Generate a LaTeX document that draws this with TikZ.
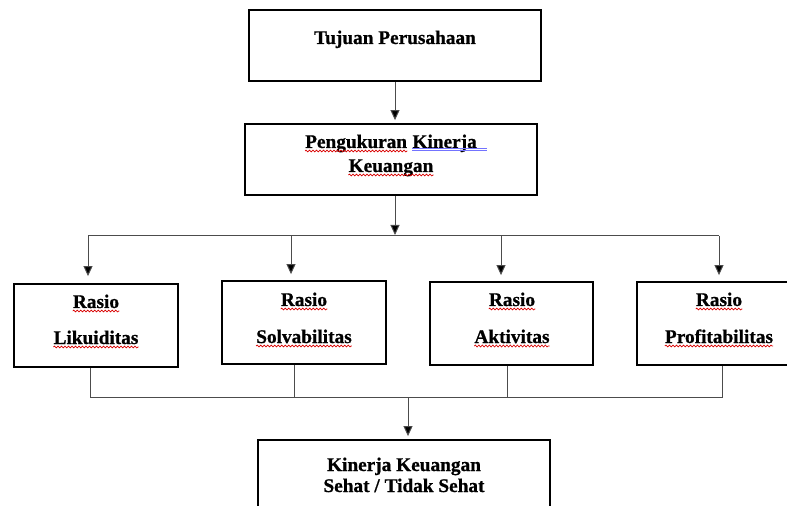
\documentclass[tikz,border=0pt]{standalone}
\usepackage{fontspec}
\setmainfont[BoldFeatures={FakeBold=0.8}]{Liberation Serif}
\usetikzlibrary{arrows.meta,decorations.pathmorphing}
\begin{document}
\begin{tikzpicture}[x=1bp,y=-1bp,
  box/.style={draw=black, line width=1.8bp, inner sep=0pt, fill=white},
  wrd/.style={anchor=base, inner sep=0pt, font=\bfseries\fontsize{19.3bp}{23bp}\selectfont},
  conn/.style={draw=black!70, line width=1bp},
  arr/.style={conn, -{Triangle[width=9bp,length=10bp,fill=black]}},
  squig/.style={draw=red!85!black, line width=0.7bp, decorate, decoration={snake, amplitude=0.9bp, segment length=3.5bp}},
  blueline/.style={draw=blue!55!white, line width=0.7bp}]
\useasboundingbox (0,0) rectangle (787,506);
% boxes
\node[box, minimum width=292bp, minimum height=71bp] (tujuan) at (395,45.5) {};
\node[box, minimum width=292bp, minimum height=71bp] (ukur) at (391,159.5) {};
\node[box, minimum width=164bp, minimum height=83bp] (likuid) at (96,325.5) {};
\node[box, minimum width=164bp, minimum height=83bp] (solva) at (304,322.5) {};
\node[box, minimum width=163bp, minimum height=83bp] (aktiv) at (511.5,323.5) {};
\node[box, minimum width=163bp, minimum height=83bp] (profit) at (718.5,323.5) {};
\node[box, minimum width=292bp, minimum height=80bp] (hasil) at (404,480) {};
% texts
\node[wrd] (t1) at (395,44) {Tujuan Perusahaan};
\node[wrd, anchor=base west] (u1) at (305,148) {Pengukuran};
\node[wrd, anchor=base west] (u2) at ([xshift=5bp]u1.base east) {Kinerja};
\node[wrd] (u3) at (391,172) {Keuangan};
\node[wrd] (a1) at (96,308) {Rasio};
\node[wrd] (a2) at (96,344) {Likuiditas};
\node[wrd] (b1) at (304,306) {Rasio};
\node[wrd] (b2) at (304,343) {Solvabilitas};
\node[wrd] (c1) at (512,306) {Rasio};
\node[wrd] (c2) at (512,343) {Aktivitas};
\node[wrd] (d1) at (719,306) {Rasio};
\node[wrd] (d2) at (719,343) {Profitabilitas};
\node[wrd] (h1) at (404,471) {Kinerja Keuangan};
\node[wrd] (h2) at (404,492) {Sehat / Tidak Sehat};
% spell-check marks
\foreach \w in {u1,u3,a1,a2,b1,b2,c1,c2,d1,d2}
  \draw[squig] ([yshift=-3bp]\w.base west) -- ([yshift=-3bp]\w.base east);
\draw[blueline] ([yshift=-0.3bp]u2.base west) -- ([xshift=10bp,yshift=-0.3bp]u2.base east);
\draw[blueline] ([yshift=-2.3bp]u2.base west) -- ([xshift=10bp,yshift=-2.3bp]u2.base east);
% connectors
\coordinate (split) at (395,236);
\coordinate (bA) at (88,236);
\coordinate (bB) at (291,236);
\coordinate (bC) at (501,236);
\coordinate (bD) at (719,236);
\coordinate (jA) at (90,397);
\coordinate (jB) at (294,397);
\coordinate (jC) at (507,397);
\coordinate (jD) at (722,397);
\coordinate (merge) at (408,397);
\draw[arr, shorten >=3bp] (tujuan.south) -- (tujuan.south |- ukur.north);
\draw[conn] (bA) -- (bD);
\draw[arr, shorten >=1bp] (ukur.south -| split) -- (split);
\draw[arr, shorten >=7bp] (bA) -- (bA |- likuid.north);
\draw[arr, shorten >=6bp] (bB) -- (bB |- solva.north);
\draw[arr, shorten >=6bp] (bC) -- (bC |- aktiv.north);
\draw[arr, shorten >=6bp] (bD) -- (bD |- profit.north);
\draw[conn] (likuid.south -| jA) -- (jA) -- (jD) -- (profit.south -| jD);
\draw[conn] (solva.south -| jB) -- (jB);
\draw[conn] (aktiv.south -| jC) -- (jC);
\draw[arr, shorten >=3bp] (merge) -- (merge |- hasil.north);
\end{tikzpicture}
\end{document}
